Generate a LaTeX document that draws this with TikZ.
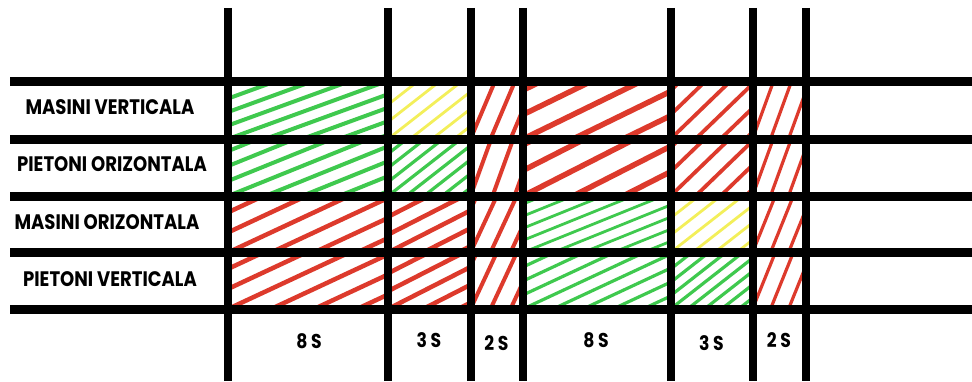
\documentclass[tikz,border=0pt]{standalone}
\usepackage{fontspec}
\newfontfamily\labelfont{Poppins}[FakeStretch=0.86]
\usetikzlibrary{calc}
\definecolor{mgreen}{HTML}{3FC94E}
\definecolor{mred}{HTML}{DD3A2C}
\definecolor{myellow}{HTML}{F3EF5A}
\tikzset{
  gridline/.style={line width=9pt,black},
  colline/.style={line width=8pt,black},
  row label/.style={font=\labelfont\bfseries\fontsize{21}{21}\selectfont,inner sep=0},
  time label/.style={font=\labelfont\bfseries\fontsize{20}{20}\selectfont,inner sep=0}
}
% hatched cell: row, column, colour, angle, spacing, line width
\newcommand{\hatchcell}[6]{%
  \pgfmathtruncatemacro\rowtop{#1-1}%
  \pgfmathtruncatemacro\colleft{#2-1}%
  \begin{scope}
    \clip (v\colleft |- h\rowtop) rectangle (v#2 |- h#1);
    \foreach \k in {-10,...,10}
      \draw[#3,line width=#6pt] ($(v\colleft |- h#1)+(\k*#5,0)$) -- ++(#4:170);
  \end{scope}}

\begin{document}
\begin{tikzpicture}[x=1pt,y=1pt]
  \useasboundingbox (0,0) rectangle (972,381);

  % grid positions
  \foreach \i/\x in {0/228,1/388,2/470.5,3/523,4/670.5,5/752.5,6/805.5}
    \coordinate (v\i) at (\x,0);
  \foreach \j/\y in {0/299.5,1/242,2/185,3/128.5,4/72}
    \coordinate (h\j) at (0,\y);

  % row 1
  \hatchcell{1}{1}{mgreen}{20}{37}{4}
  \hatchcell{1}{2}{myellow}{38}{22}{2.8}
  \hatchcell{1}{3}{mred}{67}{20}{4}
  \hatchcell{1}{4}{mred}{26}{50}{5.5}
  \hatchcell{1}{5}{mred}{44}{25}{3.8}
  \hatchcell{1}{6}{mred}{70}{18}{3.2}
  % row 2
  \hatchcell{2}{1}{mgreen}{22}{37}{4}
  \hatchcell{2}{2}{mgreen}{38}{18}{3.2}
  \hatchcell{2}{3}{mred}{70}{22}{4}
  \hatchcell{2}{4}{mred}{27}{50}{5.5}
  \hatchcell{2}{5}{mred}{44}{25}{3.8}
  \hatchcell{2}{6}{mred}{70}{18}{3.2}
  % row 3
  \hatchcell{3}{1}{mred}{25}{43}{4.5}
  \hatchcell{3}{2}{mred}{27}{35}{4.5}
  \hatchcell{3}{3}{mred}{65}{20}{4}
  \hatchcell{3}{4}{mgreen}{22}{30}{2.8}
  \hatchcell{3}{5}{myellow}{38}{22}{2.8}
  \hatchcell{3}{6}{mred}{68}{18}{3.2}
  % row 4
  \hatchcell{4}{1}{mred}{25}{43}{4.5}
  \hatchcell{4}{2}{mred}{27}{35}{4.5}
  \hatchcell{4}{3}{mred}{65}{20}{4}
  \hatchcell{4}{4}{mgreen}{25}{30}{3.2}
  \hatchcell{4}{5}{mgreen}{38}{17}{3.2}
  \hatchcell{4}{6}{mred}{68}{18}{3.2}

  % grid lines
  \foreach \y in {299.5,242,185,128.5,72}
    \draw[gridline] (10,\y) -- (972,\y);
  \foreach \x in {228,388,470.5,523,670.5,752.5,805.5}
    \draw[colline] (\x,373) -- (\x,0);

  % row labels
  \node[row label] (masvert) at (110,273.5) {MASINI VERTICALA};
  \node[row label] (pietoriz) at (112,216.5) {PIETONI ORIZONTALA};
  \node[row label] (masoriz) at (107,158.5) {MASINI ORIZONTALA};
  \node[row label] (pietvert) at (110,102) {PIETONI VERTICALA};

  % durations
  \node[time label] (t1) at (309,39.5) {8 S};
  \node[time label] (t2) at (429,41) {3 S};
  \node[time label] (t3) at (496.5,38) {2 S};
  \node[time label] (t4) at (596,40.5) {8 S};
  \node[time label] (t5) at (711.5,37.5) {3 S};
  \node[time label] (t6) at (779,41) {2 S};

\end{tikzpicture}
\end{document}
